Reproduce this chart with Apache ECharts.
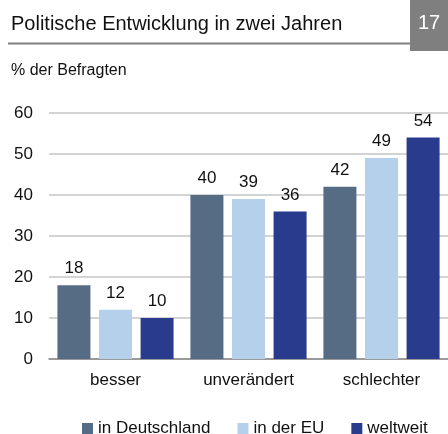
<!DOCTYPE html>
<html>
<head>
<meta charset="utf-8">
<script src="https://cdn.jsdelivr.net/npm/echarts@6/dist/echarts.min.js"></script>
<style>html,body{margin:0;padding:0;background:#fff}#c{width:448px;height:434px}</style>
</head>
<body>
<div id="c"></div>
<script>
const categories = ['besser', 'unverändert', 'schlechter'];
const seriesNames = ['in Deutschland', 'in der EU', 'weltweit'];
const deutschland = [18, 40, 42];
const eu = [12, 39, 49];
const weltweit = [10, 36, 54];
const yTicks = [0, 10, 20, 30, 40, 50, 60];
const colors = ['#566c84', '#b5d0ea', '#283b8c'];

const chart = echarts.init(document.getElementById('c'), null, { renderer: 'canvas', width: 448, height: 434 });
const font = 'Liberation Sans, Arial, sans-serif';
const mk = (name, data, color) => ({
  name, type: 'bar', data, barWidth: 33, barGap: '26%',
  itemStyle: { color },
  label: { show: true, position: 'top', distance: 8, color: '#111', fontSize: 17, fontFamily: font },
  emphasis: { disabled: true }
});
chart.setOption({
  animation: false,
  textStyle: { fontFamily: font },
  title: [
    { text: 'Politische Entwicklung in zwei Jahren', left: 6, top: 9, textStyle: { fontSize: 20, fontWeight: 'normal', color: '#111', fontFamily: font } },
    { text: '% der Befragten', left: 6, top: 58, textStyle: { fontSize: 16, fontWeight: 'normal', color: '#111', fontFamily: font } }
  ],
  graphic: [
    { type: 'rect', shape: { x: 410, y: 0, width: 38, height: 51 }, style: { fill: '#7f7f7f' }, z: 1 },
    { type: 'text', x: 429, y: 23, style: { text: '17', fill: '#fff', font: '20px ' + font, align: 'center', verticalAlign: 'middle' }, z: 2 },
    { type: 'line', shape: { x1: 8, y1: 43.5, x2: 410, y2: 43.5 }, style: { stroke: '#808080', lineWidth: 2 } }
  ],
  legend: {
    data: seriesNames, left: 77, top: 415, itemWidth: 11, itemHeight: 11, itemGap: 27,
    icon: 'rect', textStyle: { fontSize: 17, color: '#111', fontFamily: font },
    selectedMode: false
  },
  grid: { left: 49, right: 0, top: 113, bottom: 75 },
  xAxis: {
    type: 'category', data: categories,
    axisLine: { lineStyle: { color: '#888', width: 1.5 } },
    axisTick: { show: false },
    axisLabel: { fontSize: 17, color: '#111', margin: 13, fontFamily: font }
  },
  yAxis: {
    type: 'value', min: yTicks[0], max: yTicks[yTicks.length - 1], interval: 10,
    axisLine: { show: false }, axisTick: { show: false },
    axisLabel: { fontSize: 17, color: '#111', margin: 16, fontFamily: font },
    splitLine: { lineStyle: { color: '#c4c4c4', width: 1.5 } }
  },
  series: [mk(seriesNames[0], deutschland, colors[0]), mk(seriesNames[1], eu, colors[1]), mk(seriesNames[2], weltweit, colors[2])]
});
</script>
</body>
</html>
